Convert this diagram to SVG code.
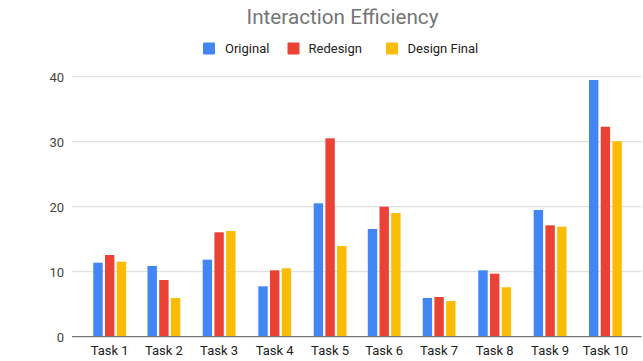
<svg xmlns="http://www.w3.org/2000/svg" width="643" height="361" viewBox="0 0 643 361">
<style>
text{font-family:Roboto,"Liberation Sans",Arial,sans-serif;}
.title{font-size:21px;fill:#757575;text-anchor:middle;}
.leg{font-size:13px;fill:#222;}
.ylab{font-size:13px;fill:#444;text-anchor:end;}
.xlab{font-size:13px;fill:#222;text-anchor:middle;}
.grid{stroke:#d9d9d9;stroke-width:1;}
.base{stroke:#777;stroke-width:1.3;}
.b{fill:#4285F4;}
.r{fill:#EA4335;}
.y{fill:#FBBC04;}
</style>
<rect width="643" height="361" fill="#fff"/>
<text class="title" x="342.5" y="24" textLength="192" lengthAdjust="spacingAndGlyphs">Interaction Efficiency</text>
<g id="legend">
<g id="leg-original"><rect class="b" x="203" y="42.5" width="12" height="12" rx="1"/><text class="leg" x="225" y="53">Original</text></g>
<g id="leg-redesign"><rect class="r" x="287.5" y="42.5" width="12" height="12" rx="1"/><text class="leg" x="308.5" y="53">Redesign</text></g>
<g id="leg-final"><rect class="y" x="386" y="42.5" width="12" height="12" rx="1"/><text class="leg" x="407.5" y="53">Design Final</text></g>
</g>
<g id="axes">
<line class="grid" x1="72" y1="76.7" x2="641.5" y2="76.7"/>
<line class="grid" x1="72" y1="141.7" x2="641.5" y2="141.7"/>
<line class="grid" x1="72" y1="206.7" x2="641.5" y2="206.7"/>
<line class="grid" x1="72" y1="271.7" x2="641.5" y2="271.7"/>
<text class="ylab" x="64" y="81.5">40</text>
<text class="ylab" x="64" y="146.5">30</text>
<text class="ylab" x="64" y="211.5">20</text>
<text class="ylab" x="64" y="276.5">10</text>
<text class="ylab" x="64" y="341.5">0</text>
</g>
<g id="task1"><rect class="b" x="93.3" y="262.7" width="9.4" height="73.8"/><rect class="r" x="105" y="255" width="9.4" height="81.5"/><rect class="y" x="116.7" y="261.7" width="9.4" height="74.8"/><text class="xlab" x="109.7" y="355">Task 1</text></g>
<g id="task2"><rect class="b" x="147.5" y="266" width="9.4" height="70.5"/><rect class="r" x="159.2" y="280" width="9.4" height="56.5"/><rect class="y" x="170.9" y="298" width="9.4" height="38.5"/><text class="xlab" x="163.9" y="355">Task 2</text></g>
<g id="task3"><rect class="b" x="202.7" y="259.7" width="9.4" height="76.8"/><rect class="r" x="214.4" y="232.3" width="9.4" height="104.2"/><rect class="y" x="226.1" y="231" width="9.4" height="105.5"/><text class="xlab" x="219.1" y="355">Task 3</text></g>
<g id="task4"><rect class="b" x="258.3" y="286.3" width="9.4" height="50.2"/><rect class="r" x="270" y="270.3" width="9.4" height="66.2"/><rect class="y" x="281.7" y="268.3" width="9.4" height="68.2"/><text class="xlab" x="274.7" y="355">Task 4</text></g>
<g id="task5"><rect class="b" x="313.7" y="203.3" width="9.4" height="133.2"/><rect class="r" x="325.4" y="138.3" width="9.4" height="198.2"/><rect class="y" x="337.1" y="246" width="9.4" height="90.5"/><text class="xlab" x="330.1" y="355">Task 5</text></g>
<g id="task6"><rect class="b" x="367.8" y="229" width="9.4" height="107.5"/><rect class="r" x="379.5" y="206.7" width="9.4" height="129.8"/><rect class="y" x="391.2" y="213" width="9.4" height="123.5"/><text class="xlab" x="384.2" y="355">Task 6</text></g>
<g id="task7"><rect class="b" x="422.7" y="298" width="9.4" height="38.5"/><rect class="r" x="434.4" y="297" width="9.4" height="39.5"/><rect class="y" x="446.1" y="301" width="9.4" height="35.5"/><text class="xlab" x="439.1" y="355">Task 7</text></g>
<g id="task8"><rect class="b" x="478.3" y="270.3" width="9.4" height="66.2"/><rect class="r" x="490" y="273.7" width="9.4" height="62.8"/><rect class="y" x="501.7" y="287.3" width="9.4" height="49.2"/><text class="xlab" x="494.7" y="355">Task 8</text></g>
<g id="task9"><rect class="b" x="533.7" y="210" width="9.4" height="126.5"/><rect class="r" x="545.4" y="225.3" width="9.4" height="111.2"/><rect class="y" x="557.1" y="226.7" width="9.4" height="109.8"/><text class="xlab" x="550.1" y="355">Task 9</text></g>
<g id="task10"><rect class="b" x="589" y="80" width="9.4" height="256.5"/><rect class="r" x="600.7" y="126.7" width="9.4" height="209.8"/><rect class="y" x="612.4" y="141.3" width="9.4" height="195.2"/><text class="xlab" x="605.4" y="355">Task 10</text></g>
<g id="connectors"><line class="base" x1="72" y1="336.7" x2="641.5" y2="336.7"/></g>
</svg>
